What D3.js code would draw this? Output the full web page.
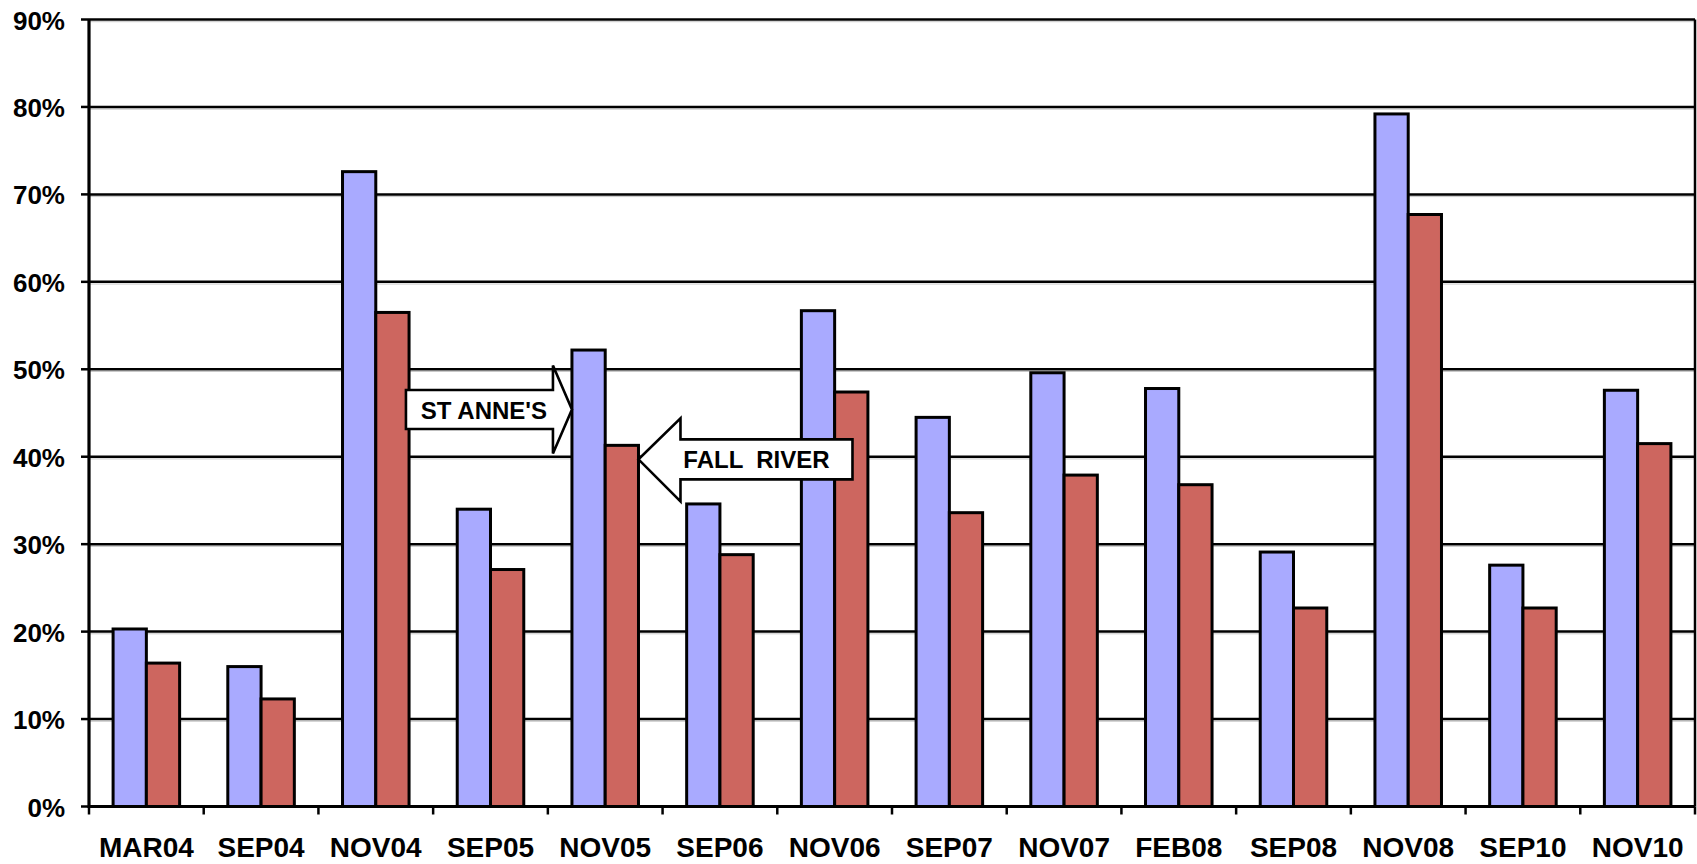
<!DOCTYPE html>
<html lang="en">
  <head>
    <meta charset="UTF-8" />
    <title>St Anne's vs Fall River</title>
    <script src="https://cdnjs.cloudflare.com/ajax/libs/d3/7.8.5/d3.min.js"></script>
    <style>
      body {
        margin: 0;
        background: #fff;
      }
      text {
        font-family: "Liberation Sans", Arial, sans-serif;
        font-weight: bold;
        fill: #000;
      }
    </style>
  </head>
  <body>
    <div id="chart"></div>
    <script>
      // values (percent)
      const categories = [
        "MAR04", "SEP04", "NOV04", "SEP05", "NOV05", "SEP06", "NOV06",
        "SEP07", "NOV07", "FEB08", "SEP08", "NOV08", "SEP10", "NOV10",
      ];
      const stAnnes = [20.3, 16.0, 72.6, 34.0, 52.2, 34.6, 56.7, 44.5, 49.6, 47.8, 29.1, 79.2, 27.6, 47.6];
      const fallRiver = [16.4, 12.3, 56.5, 27.1, 41.3, 28.8, 47.4, 33.6, 37.9, 36.8, 22.7, 67.7, 22.7, 41.5];
      const yTicks = [0, 10, 20, 30, 40, 50, 60, 70, 80, 90];
      const seriesNames = ["ST ANNE'S", "FALL  RIVER"];

      const margin = { top: 19.5, right: 2, bottom: 57.5, left: 89 };
      const width = 1697 - margin.left - margin.right;
      const height = 864 - margin.top - margin.bottom;

      const svg = d3
        .select("#chart")
        .append("svg")
        .attr("width", 1697)
        .attr("height", 864)
        .append("g")
        .attr("transform", `translate(${margin.left},${margin.top})`);

      const xScale = d3.scaleBand().domain(categories).range([0, width]);
      const bw = xScale.bandwidth();
      const xInner = d3
        .scaleBand()
        .domain(["st", "fr"])
        .range([bw * 0.21, bw * 0.79]);
      const yScale = d3.scaleLinear().domain([0, 90]).range([height, 0]);
      const colors = { st: "#a9aaff", fr: "#cd665f" };

      // gridlines (with a faint shadow)
      svg
        .selectAll(".grid-shadow")
        .data(yTicks.slice(1))
        .enter()
        .append("line")
        .attr("x1", 0)
        .attr("x2", width)
        .attr("y1", (d) => yScale(d) + 2.2)
        .attr("y2", (d) => yScale(d) + 2.2)
        .attr("stroke", "#c8c8c8")
        .attr("stroke-width", 1);
      svg
        .selectAll(".grid")
        .data(yTicks.slice(1))
        .enter()
        .append("line")
        .attr("x1", 0)
        .attr("x2", width)
        .attr("y1", (d) => yScale(d))
        .attr("y2", (d) => yScale(d))
        .attr("stroke", "#000")
        .attr("stroke-width", 2.5);

      // right border
      svg
        .append("line")
        .attr("x1", width)
        .attr("x2", width)
        .attr("y1", yScale(90))
        .attr("y2", yScale(0))
        .attr("stroke", "#000")
        .attr("stroke-width", 2.5);

      // bars
      const rows = categories.map((c, i) => ({ c, st: stAnnes[i], fr: fallRiver[i] }));
      const groups = svg
        .selectAll(".cat")
        .data(rows)
        .enter()
        .append("g")
        .attr("transform", (d) => `translate(${xScale(d.c)},0)`);

      ["st", "fr"].forEach((key) => {
        groups
          .append("rect")
          .attr("x", xInner(key))
          .attr("y", (d) => yScale(d[key]))
          .attr("width", xInner.bandwidth())
          .attr("height", (d) => yScale(0) - yScale(d[key]))
          .attr("fill", colors[key])
          .attr("stroke", "#000")
          .attr("stroke-width", 3);
      });

      // left axis
      svg
        .append("line")
        .attr("x1", 0)
        .attr("x2", 0)
        .attr("y1", yScale(90))
        .attr("y2", yScale(0) + 1.5)
        .attr("stroke", "#000")
        .attr("stroke-width", 3.2);
      svg
        .selectAll(".ytick")
        .data(yTicks)
        .enter()
        .append("line")
        .attr("x1", -8)
        .attr("x2", 0)
        .attr("y1", (d) => yScale(d))
        .attr("y2", (d) => yScale(d))
        .attr("stroke", "#000")
        .attr("stroke-width", 2.5);
      svg
        .selectAll(".ylabel")
        .data(yTicks)
        .enter()
        .append("text")
        .attr("x", -24)
        .attr("y", (d) => yScale(d) + 10)
        .attr("text-anchor", "end")
        .style("font-size", "26px")
        .text((d) => d + "%");

      // bottom axis
      svg
        .append("line")
        .attr("x1", 0)
        .attr("x2", width)
        .attr("y1", yScale(0))
        .attr("y2", yScale(0))
        .attr("stroke", "#000")
        .attr("stroke-width", 3.2);
      svg
        .selectAll(".xtick")
        .data(d3.range(categories.length + 1))
        .enter()
        .append("line")
        .attr("x1", (i) => i * xScale.step())
        .attr("x2", (i) => i * xScale.step())
        .attr("y1", yScale(0))
        .attr("y2", yScale(0) + 8)
        .attr("stroke", "#000")
        .attr("stroke-width", 2.5);
      svg
        .selectAll(".xlabel")
        .data(categories)
        .enter()
        .append("text")
        .attr("x", (d) => xScale(d) + bw / 2)
        .attr("y", height + 50)
        .attr("text-anchor", "middle")
        .style("font-size", "28px")
        .text((d) => d);

      // callout arrows pointing at NOV05 bars
      const cat = "NOV05";
      const iCat = categories.indexOf(cat);

      // St Anne's: right-pointing arrow, tip at blue bar's left edge
      const t1x = xScale(cat) + xInner("st");
      const t1y = yScale(stAnnes[iCat] - 6.8);
      const a1 = [
        [t1x - 166, t1y - 19.5],
        [t1x - 19, t1y - 19.5],
        [t1x - 19, t1y - 44],
        [t1x, t1y],
        [t1x - 19, t1y + 44],
        [t1x - 19, t1y + 19.5],
        [t1x - 166, t1y + 19.5],
      ];
      svg
        .append("polygon")
        .attr("points", a1.map((p) => p.join(",")).join(" "))
        .attr("fill", "#fff")
        .attr("stroke", "#000")
        .attr("stroke-width", 2.6);
      svg
        .append("text")
        .attr("x", t1x - 88)
        .attr("y", t1y + 9)
        .attr("text-anchor", "middle")
        .style("font-size", "24px")
        .text(seriesNames[0]);

      // Fall River: left-pointing arrow, tip at red bar's right edge
      const t2x = xScale(cat) + xInner("fr") + xInner.bandwidth();
      const t2y = yScale(fallRiver[iCat] - 1.6);
      const a2 = [
        [t2x + 214, t2y - 20],
        [t2x + 42, t2y - 20],
        [t2x + 42, t2y - 41],
        [t2x, t2y],
        [t2x + 42, t2y + 42],
        [t2x + 42, t2y + 20],
        [t2x + 214, t2y + 20],
      ];
      svg
        .append("polygon")
        .attr("points", a2.map((p) => p.join(",")).join(" "))
        .attr("fill", "#fff")
        .attr("stroke", "#000")
        .attr("stroke-width", 2.6);
      svg
        .append("text")
        .attr("x", t2x + 118)
        .attr("y", t2y + 9)
        .attr("text-anchor", "middle")
        .attr("xml:space", "preserve")
        .style("white-space", "pre")
        .style("font-size", "24px")
        .text(seriesNames[1]);
    </script>
  </body>
</html>
